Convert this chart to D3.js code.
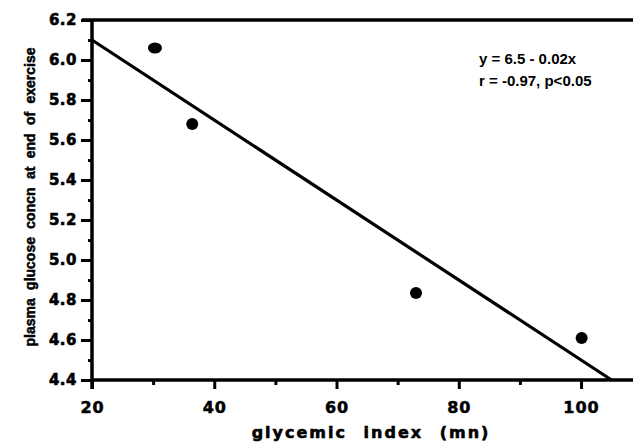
<!DOCTYPE html>
<html><head><meta charset="utf-8">
<script src="https://cdn.jsdelivr.net/npm/d3@7"></script>
<style>
html,body{margin:0;padding:0;background:#fff;}
svg{display:block;}
</style></head>
<body>
<svg id="chart" width="633" height="442"></svg>
<script>
// Data
const glycemicIndex = [30.3, 36.4, 73.0, 100.1];
const glucoseConc   = [6.06, 5.68, 4.835, 4.61];
const regIntercept = 6.5;
const regSlope = -0.02;
const regRange = [20, 105];
const xTicks = [20, 40, 60, 80, 100];
const xMinorTicks = [30, 50, 70, 90];
const yTicks = [4.4, 4.6, 4.8, 5.0, 5.2, 5.4, 5.6, 5.8, 6.0, 6.2];
const yMinorTicks = [4.5, 4.7, 4.9, 5.1, 5.3, 5.5, 5.7, 5.9, 6.1];
const annotation = ["y = 6.5 - 0.02x", "r = -0.97, p<0.05"];
const xTitle = "glycemic index (mn)";
const yTitle = "plasma glucose concn at end of exercise";

(function () {
const svg = d3.select("#chart");
const mLeft = 92, mRight = 633, mTop = 20, mBottom = 380;
const x = d3.scaleLinear().domain([20, 108.5]).range([mLeft, mRight]);
const y = d3.scaleLinear().domain([4.4, 6.2]).range([mBottom, mTop]);

const labelFont = "'DejaVu Sans', sans-serif";
const sansFont = "'Liberation Sans', Arial, sans-serif";

// top border
svg.append("line").attr("x1", mLeft - 10).attr("x2", mRight).attr("y1", mTop).attr("y2", mTop)
  .attr("stroke", "#000").attr("stroke-width", 3.5);

// Y axis
const yAxis = svg.append("g").attr("transform", `translate(${mLeft},0)`)
  .call(d3.axisLeft(y).tickValues(yTicks).tickFormat(d3.format(".1f")).tickSize(11).tickPadding(4));
yAxis.select(".domain").remove();
yAxis.selectAll(".tick line").attr("stroke-width", 3);
yAxis.selectAll(".tick text")
  .style("font-family", labelFont).style("font-weight", "bold")
  .style("font-size", "15px").style("letter-spacing", "0.5px")
  .attr("fill", "#000").attr("stroke", "#000").attr("stroke-width", 0.6);
svg.append("g").attr("transform", `translate(${mLeft},0)`)
  .call(d3.axisLeft(y).tickValues(yMinorTicks).tickSize(4).tickFormat(""))
  .call(g => g.select(".domain").remove())
  .selectAll(".tick line").attr("stroke-width", 3);
svg.append("line").attr("x1", mLeft).attr("x2", mLeft).attr("y1", mTop).attr("y2", mBottom + 9)
  .attr("stroke", "#000").attr("stroke-width", 3.5);

// X axis
const xAxis = svg.append("g").attr("transform", `translate(0,${mBottom})`)
  .call(d3.axisBottom(x).tickValues(xTicks).tickFormat(d3.format("d")).tickSize(9));
xAxis.select(".domain").remove();
xAxis.selectAll(".tick line").attr("stroke-width", 3);
xAxis.selectAll(".tick text").attr("y", 33).attr("dy", null)
  .style("font-family", labelFont).style("font-weight", "bold")
  .style("font-size", "16px").style("letter-spacing", "1px")
  .attr("fill", "#000").attr("stroke", "#000").attr("stroke-width", 0.5);
svg.append("g").attr("transform", `translate(0,${mBottom})`)
  .call(d3.axisBottom(x).tickValues(xMinorTicks).tickSize(5).tickFormat(""))
  .call(g => g.select(".domain").remove())
  .selectAll(".tick line").attr("stroke-width", 3);
svg.append("line").attr("x1", mLeft - 1).attr("x2", mRight).attr("y1", mBottom).attr("y2", mBottom)
  .attr("stroke", "#000").attr("stroke-width", 3.5);

// regression line
svg.append("line")
  .attr("x1", x(regRange[0])).attr("y1", y(regIntercept + regSlope * regRange[0]))
  .attr("x2", x(regRange[1])).attr("y2", y(regIntercept + regSlope * regRange[1]))
  .attr("stroke", "#000").attr("stroke-width", 3.2);

// points
svg.selectAll("ellipse.pt").data(glycemicIndex.map((d, i) => [d, glucoseConc[i]]))
  .enter().append("ellipse").attr("class", "pt")
  .attr("cx", d => x(d[0])).attr("cy", d => y(d[1]))
  .attr("rx", (d, i) => i === 0 ? 7 : 6).attr("ry", (d, i) => i === 0 ? 5.5 : 6)
  .attr("fill", "#000");

// annotation
svg.selectAll("text.ann").data(annotation).enter().append("text").attr("class", "ann")
  .attr("x", 479).attr("y", (d, i) => 64 + i * 22)
  .style("font-family", sansFont).style("font-weight", "bold").style("font-size", "15px")
  .attr("fill", "#000").text(d => d);

// x title
svg.append("text").attr("x", 371).attr("y", 438).attr("text-anchor", "middle")
  .style("font-family", labelFont).style("font-weight", "bold").style("font-size", "16px")
  .style("letter-spacing", "2px").style("word-spacing", "9px")
  .attr("fill", "#000").attr("stroke", "#000").attr("stroke-width", 0.6).text(xTitle);

// y title
const yt = svg.append("text").attr("transform", "translate(35,197) rotate(-90)")
  .attr("text-anchor", "middle")
  .style("font-family", sansFont).style("font-weight", "bold").style("font-size", "14px")
  .attr("fill", "#000").attr("stroke", "#000").attr("stroke-width", 0.5).text(yTitle);
const baseLen = yt.node().getComputedTextLength();
const gaps = yTitle.split(" ").length - 1;
yt.style("word-spacing", Math.max(0, (299 - baseLen) / gaps) + "px");
})();
</script>
</body></html>
